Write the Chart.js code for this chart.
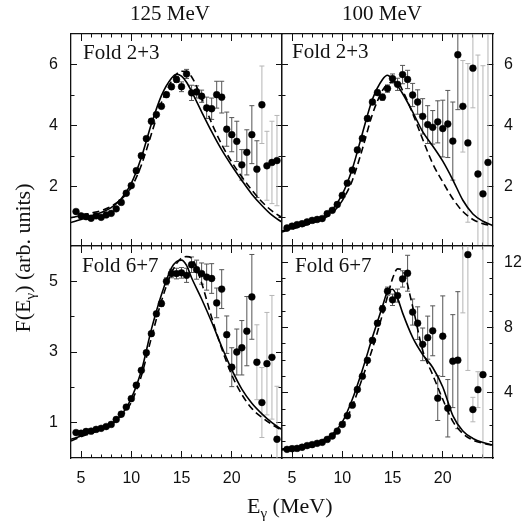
<!DOCTYPE html>
<html>
<head>
<meta charset="utf-8">
<title>GDR strength functions</title>
<script src="https://cdn.jsdelivr.net/npm/chart.js@4.4.1/dist/chart.umd.min.js"></script>
<style>
  html, body { margin: 0; padding: 0; background: #fff; }
  #wrap { position: relative; width: 525px; height: 529px; overflow: hidden; }
  #wrap canvas { position: absolute; left: 0; top: 0; }
  .t {
    position: absolute; z-index: 2; color: #111; line-height: 1; white-space: nowrap;
    font-family: 'Liberation Serif', 'Times New Roman', serif;
  }
  .t sub { font-size: 15px; vertical-align: -5px; line-height: 0; }
  .ytitle { left: -77px; top: 247px; width: 200px; text-align: center; font-size: 22px; transform: rotate(-90deg); }
</style>
</head>
<body>
<div id="wrap">
  <canvas id="c23a" width="525" height="529"></canvas>
  <canvas id="c23b" width="525" height="529"></canvas>
  <canvas id="c67a" width="525" height="529"></canvas>
  <canvas id="c67b" width="525" height="529"></canvas>

  <div class="t" style="left:130px; top:3px; font-size:21px;">125 MeV</div>
  <div class="t" style="left:342px; top:3px; font-size:21px;">100 MeV</div>
  <div class="t" style="left:83px; top:42px; font-size:21px;">Fold 2+3</div>
  <div class="t" style="left:292px; top:41px; font-size:21px;">Fold 2+3</div>
  <div class="t" style="left:82px; top:255px; font-size:21px;">Fold 6+7</div>
  <div class="t" style="left:295px; top:255px; font-size:21px;">Fold 6+7</div>
  <div class="t" style="left:247px; top:495px; font-size:22px;">E<sub>γ</sub> (MeV)</div>
  <div class="t ytitle">F(E<sub>γ</sub>) (arb. units)</div>
</div>

<script>
// ─── Measured spectra (0.5 MeV bins) ─────────────────────────────
const energies = [4.5, 5, 5.5, 6, 6.5, 7, 7.5, 8, 8.5, 9, 9.5, 10, 10.5, 11, 11.5, 12, 12.5, 13, 13.5, 14,
  14.5, 15, 15.5, 16, 16.5, 17, 17.5, 18, 18.5, 19, 19.5, 20, 20.5, 21, 21.5, 22, 22.5, 23, 23.5, 24, 24.5];

const fold23At125 = [1.18, 1.04, 1.01, 0.96, 1.04, 0.99, 1.07, 1.12, 1.27, 1.48, 1.78, 2.03, 2.52, 3.01, 3.57, 4.14, 4.36, 4.63, 5.01, 5.27,
  5.51, 5.27, 5.69, 5.07, 5.10, 4.96, 4.58, 4.55, 5.01, 4.93, 3.88, 3.70, 3.48, 2.71, 3.12, 3.70, 2.57, 4.68, 2.68, 2.79, 2.85];
const fold23At125Err = [0.03, 0.03, 0.03, 0.03, 0.03, 0.03, 0.03, 0.03, 0.03, 0.04, 0.04, 0.04, 0.05, 0.05, 0.06, 0.06, 0.06, 0.07, 0.07, 0.08,
  0.10, 0.16, 0.15, 0.25, 0.20, 0.20, 0.35, 0.35, 0.44, 0.52, 0.56, 0.56, 0.66, 0.50, 0.74, 0.95, 0.93, 1.27, 1.13, 1.35, 1.48];

const fold23At100 = [0.64, 0.70, 0.75, 0.78, 0.84, 0.89, 0.92, 0.95, 1.11, 1.22, 1.41, 1.71, 2.11, 2.54, 3.20, 3.58, 4.23, 4.77, 5.08, 4.93,
  5.21, 5.54, 5.35, 5.67, 5.51, 5.00, 4.77, 4.30, 4.03, 3.94, 4.12, 3.90, 4.05, 3.49, 6.32, 4.63, 3.43, 5.88, 2.41, 1.76, 2.79];
const fold23At100Err = [0.03, 0.03, 0.03, 0.03, 0.03, 0.03, 0.03, 0.03, 0.03, 0.04, 0.04, 0.04, 0.05, 0.05, 0.06, 0.06, 0.07, 0.07, 0.08, 0.10,
  0.12, 0.15, 0.20, 0.30, 0.30, 0.38, 0.40, 0.58, 0.62, 0.55, 0.69, 0.93, 1.10, 1.28, 1.80, 1.50, 2.60, 1.30, 3.90, 4.20, 4.50];

const fold67At125 = [0.72, 0.70, 0.75, 0.76, 0.81, 0.84, 0.89, 0.95, 1.09, 1.24, 1.44, 1.68, 2.06, 2.48, 2.98, 3.52, 4.08, 4.37, 5.00, 5.22,
  5.22, 5.24, 5.17, 5.47, 5.33, 5.22, 5.12, 5.08, 4.39, 4.78, 3.49, 2.57, 3.00, 3.12, 3.59, 4.56, 2.71, 1.57, 2.67, 2.85, 0.53];
const fold67At125Err = [0.03, 0.03, 0.03, 0.03, 0.03, 0.03, 0.03, 0.03, 0.03, 0.04, 0.04, 0.04, 0.05, 0.05, 0.06, 0.06, 0.07, 0.08, 0.10, 0.12,
  0.15, 0.15, 0.20, 0.22, 0.27, 0.30, 0.37, 0.42, 0.42, 0.55, 0.53, 0.55, 0.65, 0.77, 0.98, 1.20, 1.06, 0.99, 1.45, 1.75, 1.50];

const fold67At100 = [0.53, 0.57, 0.59, 0.66, 0.76, 0.82, 0.90, 0.96, 1.14, 1.35, 1.65, 2.06, 2.59, 3.24, 4.20, 5.01, 5.99, 7.21, 8.27, 9.15,
  10.23, 9.70, 9.96, 10.98, 11.33, 8.95, 8.27, 6.97, 7.38, 7.80, 3.67, 7.47, 3.05, 5.94, 6.00, 14.2, 12.47, 2.97, 4.19, 5.11, null];
const fold67At100Err = [0.03, 0.03, 0.03, 0.03, 0.04, 0.04, 0.04, 0.05, 0.05, 0.06, 0.06, 0.07, 0.08, 0.09, 0.10, 0.11, 0.12, 0.14, 0.16, 0.20,
  0.25, 0.35, 0.40, 0.50, 1.10, 0.80, 1.00, 1.00, 1.32, 1.53, 1.37, 2.47, 1.76, 2.85, 4.20, 5.30, 7.10, 0.75, 1.10, 8.00, null];

// ─── Model curves (solid / dashed) ───────────────────────────────
const curveEnergies = [4, 5, 6, 7, 8, 9, 10, 11, 12, 13, 14, 14.5, 15, 15.5, 16, 17, 18, 19, 20, 21, 22, 23, 24, 25];

const model23At125Solid  = [0.82, 0.92, 1.03, 1.15, 1.31, 1.60, 2.10, 2.95, 4.05, 4.98, 5.55, 5.68, 5.62, 5.42, 5.12, 4.45, 3.80, 3.20, 2.68, 2.20, 1.75, 1.38, 1.06, 0.83];
const model23At125Dashed = [0.98, 1.05, 1.13, 1.21, 1.35, 1.58, 1.97, 2.70, 3.72, 4.75, 5.45, 5.68, 5.78, 5.77, 5.60, 4.90, 4.08, 3.38, 2.80, 2.32, 1.88, 1.50, 1.20, 0.98];
const model23At100Solid  = [0.54, 0.64, 0.73, 0.84, 0.98, 1.24, 1.74, 2.58, 3.74, 4.86, 5.51, 5.65, 5.51, 5.30, 5.05, 4.45, 3.80, 3.33, 2.83, 2.22, 1.55, 1.10, 0.86, 0.72];
const model23At100Dashed = [0.51, 0.60, 0.70, 0.80, 0.92, 1.14, 1.54, 2.20, 3.23, 4.37, 5.15, 5.35, 5.43, 5.42, 5.15, 4.40, 3.55, 2.75, 2.15, 1.60, 1.18, 0.92, 0.78, 0.71];
const model67At125Solid  = [0.53, 0.62, 0.74, 0.84, 0.97, 1.21, 1.68, 2.46, 3.64, 4.62, 5.38, 5.56, 5.60, 5.45, 5.10, 4.50, 3.85, 3.15, 2.50, 1.95, 1.55, 1.25, 1.00, 0.80];
const model67At125Dashed = [0.48, 0.60, 0.70, 0.81, 0.95, 1.17, 1.58, 2.32, 3.40, 4.44, 5.24, 5.50, 5.66, 5.70, 5.66, 4.95, 3.98, 3.10, 2.35, 1.80, 1.40, 1.15, 0.95, 0.78];
const model67At100Solid  = [0.55, 0.63, 0.74, 0.88, 1.08, 1.45, 2.20, 3.60, 5.40, 7.40, 9.30, 10.20, 10.35, 9.80, 8.90, 7.40, 6.35, 5.55, 4.35, 2.60, 1.65, 1.20, 0.95, 0.80];
const model67At100Dashed = [0.50, 0.58, 0.68, 0.80, 0.98, 1.30, 1.95, 3.20, 4.90, 6.70, 8.80, 9.90, 11.00, 11.60, 11.50, 9.30, 6.60, 5.10, 3.60, 2.25, 1.50, 1.10, 0.90, 0.78];

// ─── Axes ────────────────────────────────────────────────────────
const xRange = [4, 25];
const xMajorTicks = [5, 10, 15, 20];
const xMinorTicks = [6, 7, 8, 9, 11, 12, 13, 14, 16, 17, 18, 19, 21, 22, 23, 24];
const yMajorFold23 = [2, 4, 6];
const yMinorFold23 = [1, 3, 5];
const yMajorFold67At125 = [1, 3, 5];
const yMinorFold67At125 = [2, 4];
const yMajorFold67At100 = [4, 8, 12];
const yMinorFold67At100 = [1, 2, 3, 5, 6, 7, 9, 10, 11];

const INK = '#111';
const BAR_DARK = '#555';
const BAR_LIGHT = '#b5b5b5';
const tickFont = { family: "'Liberation Sans', Arial, Helvetica, sans-serif", size: 16 };

// room kept for tick labels outside the plot
const LEFT_LABELS = 50, RIGHT_LABELS = 32, BOTTOM_LABELS = 40;

// fixed-size scale so the chart area lands exactly on the panel box;
// negative tick length points the tick marks into the plot
function tickAxis(position, range, values, len, opts = {}) {
  const horizontal = position === 'top' || position === 'bottom';
  const size = opts.size || 0;
  return {
    type: 'linear',
    position,
    weight: size ? 1 : 0,
    min: range[0],
    max: range[1],
    afterFit: s => { if (horizontal) s.height = size; else s.width = size; },
    afterBuildTicks: s => { s.ticks = values.map(v => ({ value: v })); },
    grid: { drawOnChartArea: false, tickLength: -len, tickColor: INK, tickWidth: 1 },
    border: { display: !!opts.border, color: INK, width: 1.3 },
    ticks: opts.labels
      ? { display: true, padding: opts.labels, color: INK, font: tickFont, autoSkip: false, maxRotation: 0 }
      : { display: false }
  };
}

function drawPanel(p) {
  const [left, top, right, bottom] = p.box;
  const other = p.ySide === 'left' ? 'right' : 'left';
  const ySize = p.ySide === 'left' ? LEFT_LABELS : RIGHT_LABELS;
  const xSize = p.xLabels ? BOTTOM_LABELS : 0;
  const pad = {
    left: left - (p.ySide === 'left' ? ySize : 0),
    right: 525 - right - (p.ySide === 'right' ? ySize : 0),
    top,
    bottom: 529 - bottom - xSize
  };

  const points = energies.map((e, i) => ({ x: e, y: p.values[i] }));
  const bars = [];
  energies.forEach((e, i) => {
    if (p.values[i] == null) return;
    bars.push({ x: e, y: p.values[i] - p.errors[i] }, { x: e, y: p.values[i] + p.errors[i] }, { x: e, y: null });
  });
  const curve = ys => curveEnergies.map((e, i) => ({ x: e, y: ys[i] }));
  const barColor = x => (x >= p.lightFrom ? BAR_LIGHT : BAR_DARK);

  new Chart(document.getElementById(p.id), {
    type: 'line',
    data: {
      datasets: [
        {
          data: points, showLine: false, order: 0,
          pointRadius: 3.4, pointBackgroundColor: '#000', pointBorderColor: '#000', pointBorderWidth: 0.5
        },
        {
          data: curve(p.solid), order: 1, borderColor: '#000', borderWidth: 1.6,
          pointRadius: 0, cubicInterpolationMode: 'monotone'
        },
        {
          data: curve(p.dashed), order: 1, borderColor: '#000', borderWidth: 1.6, borderDash: [7, 4],
          pointRadius: 0, cubicInterpolationMode: 'monotone'
        },
        {
          data: bars, order: 2, borderWidth: 1, borderColor: BAR_DARK, spanGaps: false,
          segment: { borderColor: c => barColor(c.p0.parsed.x) },
          pointStyle: 'line', pointRadius: 2.5, pointBorderWidth: 1,
          pointBorderColor: c => barColor(c.raw ? c.raw.x : 0)
        }
      ]
    },
    options: {
      responsive: false,
      animation: false,
      events: [],
      layout: { padding: pad },
      plugins: { legend: { display: false }, tooltip: { enabled: false } },
      scales: {
        x: tickAxis('bottom', xRange, xMajorTicks, 7, { border: true, size: xSize, labels: p.xLabels ? 18 : 0 }),
        xMinor: tickAxis('bottom', xRange, xMinorTicks, 3.5),
        xTop: tickAxis('top', xRange, xMajorTicks, 7, { border: true }),
        xTopMinor: tickAxis('top', xRange, xMinorTicks, 3.5),
        y: tickAxis(p.ySide, p.yRange, p.yMajor, 6, { border: true, size: ySize, labels: p.ySide === 'left' ? 19 : 17 }),
        yMinor: tickAxis(p.ySide, p.yRange, p.yMinor, 3.5),
        yOther: tickAxis(other, p.yRange, p.yMajor, 6, { border: true }),
        yOtherMinor: tickAxis(other, p.yRange, p.yMinor, 3.5)
      }
    }
  });
}

[
  { id: 'c23a', box: [71, 34, 282, 246], ySide: 'left', xLabels: false, yRange: [0.05, 7],
    yMajor: yMajorFold23, yMinor: yMinorFold23, lightFrom: 23,
    values: fold23At125, errors: fold23At125Err, solid: model23At125Solid, dashed: model23At125Dashed },
  { id: 'c23b', box: [282, 34, 493, 246], ySide: 'right', xLabels: false, yRange: [0.05, 7],
    yMajor: yMajorFold23, yMinor: yMinorFold23, lightFrom: 22,
    values: fold23At100, errors: fold23At100Err, solid: model23At100Solid, dashed: model23At100Dashed },
  { id: 'c67a', box: [71, 246, 282, 458], ySide: 'left', xLabels: true, yRange: [0, 6],
    yMajor: yMajorFold67At125, yMinor: yMinorFold67At125, lightFrom: 22.5,
    values: fold67At125, errors: fold67At125Err, solid: model67At125Solid, dashed: model67At125Dashed },
  { id: 'c67b', box: [282, 246, 493, 458], ySide: 'right', xLabels: true, yRange: [0, 13],
    yMajor: yMajorFold67At100, yMinor: yMinorFold67At100, lightFrom: 22,
    values: fold67At100, errors: fold67At100Err, solid: model67At100Solid, dashed: model67At100Dashed }
].forEach(drawPanel);
</script>
</body>
</html>
